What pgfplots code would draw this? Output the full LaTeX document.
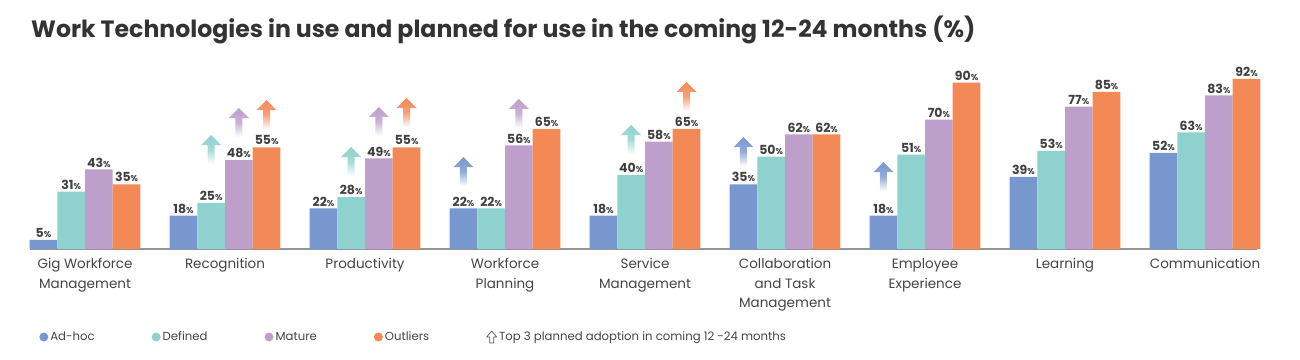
\documentclass[border=0pt]{standalone}
\usepackage{fontspec}
\setmainfont{Poppins}
\usepackage{pgfplots}
\pgfplotsset{compat=1.18}
\definecolor{cB}{RGB}{120,151,206}
\definecolor{cT}{RGB}{143,209,207}
\definecolor{cP}{RGB}{190,158,202}
\definecolor{cO}{RGB}{244,137,88}
\definecolor{lblgray}{RGB}{64,64,64}
\definecolor{catgray}{RGB}{68,68,68}
\definecolor{titlegray}{RGB}{51,51,51}
\definecolor{axgray}{RGB}{150,150,150}
\newcommand\defarrowmark[2]{%
  \pgfdeclareplotmark{#1}{%
    \shade[draw=none, top color=#2, bottom color=white, middle color=#2!80!white]
      (-3.5pt,-29pt) -- (-3.5pt,-10pt) -- (-10pt,-10pt) -- (0pt,0pt) --
      (10pt,-10pt) -- (3.5pt,-10pt) -- (3.5pt,-29pt) -- cycle;}}
\defarrowmark{arrB}{cB}
\defarrowmark{arrT}{cT}
\defarrowmark{arrP}{cP}
\defarrowmark{arrO}{cO}
\pgfplotsset{
  mybar/.style 2 args={ybar, bar width=27.7pt, fill=#1, draw=none, bar shift=#2,
    nodes near coords={\pgfmathprintnumber{\pgfplotspointmeta}{\fontsize{8.5}{9}\selectfont\%}},
    every node near coord/.append style={font=\bfseries\fontsize{12.5}{14}\selectfont, text=lblgray, inner sep=2pt, anchor=south, xshift=#2},
    legend image code/.code={\fill[#1] (4pt,0pt) circle (4.5pt);}},
}
\begin{document}
\begin{tikzpicture}
\path[use as bounding box] (0,0) rectangle (1300pt,359pt);
\node[anchor=west, inner sep=0pt, font=\bfseries\fontsize{23.6}{27}\selectfont, text=titlegray] at (31pt,329pt)
  {Work Technologies in use and planned for use in the coming 12-24 months (\%)};
\begin{axis}[
  at={(30pt,110pt)}, anchor=south west,
  scale only axis, width=1227pt, height=185pt,
  xmin=-0.393, xmax=8.371, ymin=0, ymax=100,
  axis y line=none, axis x line*=bottom,
  x axis line style={draw=axgray, line width=1.5pt, -},
  xtick={0,...,8}, major tick length=0pt,
  xticklabels={{Gig Workforce\\Management},Recognition,Productivity,{Workforce\\Planning},{Service\\Management},{Collaboration\\and Task\\Management},{Employee\\Experience},Learning,Communication},
  xticklabel style={align=center, font=\fontsize{13.5}{19.5}\selectfont, text=catgray, yshift=-6pt},
  /pgf/number format/assume math mode=true,
  clip=false,
  legend columns=5,
  legend style={at={(0.005,-0.4757)}, anchor=west, draw=none, fill=none,
    font=\fontsize{11.7}{14}\selectfont, text=catgray,
    /tikz/every even column/.append style={column sep=55pt},
    /tikz/every odd column/.append style={column sep=0pt}},
]
\addplot[mybar={cB}{-41.55pt}]
  coordinates {(0,5) (1,18) (2,22) (3,22) (4,18) (5,35) (6,18) (7,39) (8,52)};
\addlegendentry{Ad-hoc}
\addplot[mybar={cT}{-13.85pt}]
  coordinates {(0,31) (1,25) (2,28) (3,22) (4,40) (5,50) (6,51) (7,53) (8,63)};
\addlegendentry{Defined}
\addplot[mybar={cP}{13.85pt}]
  coordinates {(0,43) (1,48) (2,49) (3,56) (4,58) (5,62) (6,70) (7,77) (8,83)};
\addlegendentry{Mature}
\addplot[mybar={cO}{41.55pt}]
  coordinates {(0,35) (1,55) (2,55) (3,65) (4,65) (5,62) (6,90) (7,85) (8,92)};
\addlegendentry{Outliers}
\addlegendimage{legend image code/.code={\draw[line width=0.7pt, draw=black!65, line join=round]
  (3pt,-6pt) -- (3pt,0pt) -- (0pt,0pt) -- (5pt,6pt) -- (10pt,0pt) -- (7pt,0pt) -- (7pt,-6pt) -- cycle;}}
\addlegendentry{Top 3 planned adoption in coming 12 -24 months}
% arrows (tip positions)
\addplot[only marks, mark=arrB, forget plot] coordinates {(2.7032,49.7) (4.7032,60.5) (5.7032,47)};
\addplot[only marks, mark=arrT, forget plot] coordinates {(0.9011,61.6) (1.9011,55.1) (3.9011,67)};
\addplot[only marks, mark=arrP, forget plot] coordinates {(1.0989,76.2) (2.0989,76.8) (3.0989,81.1)};
\addplot[only marks, mark=arrO, forget plot] coordinates {(1.2968,80.5) (2.2968,81.6) (4.2968,90.3)};
\end{axis}
\end{tikzpicture}
\end{document}
